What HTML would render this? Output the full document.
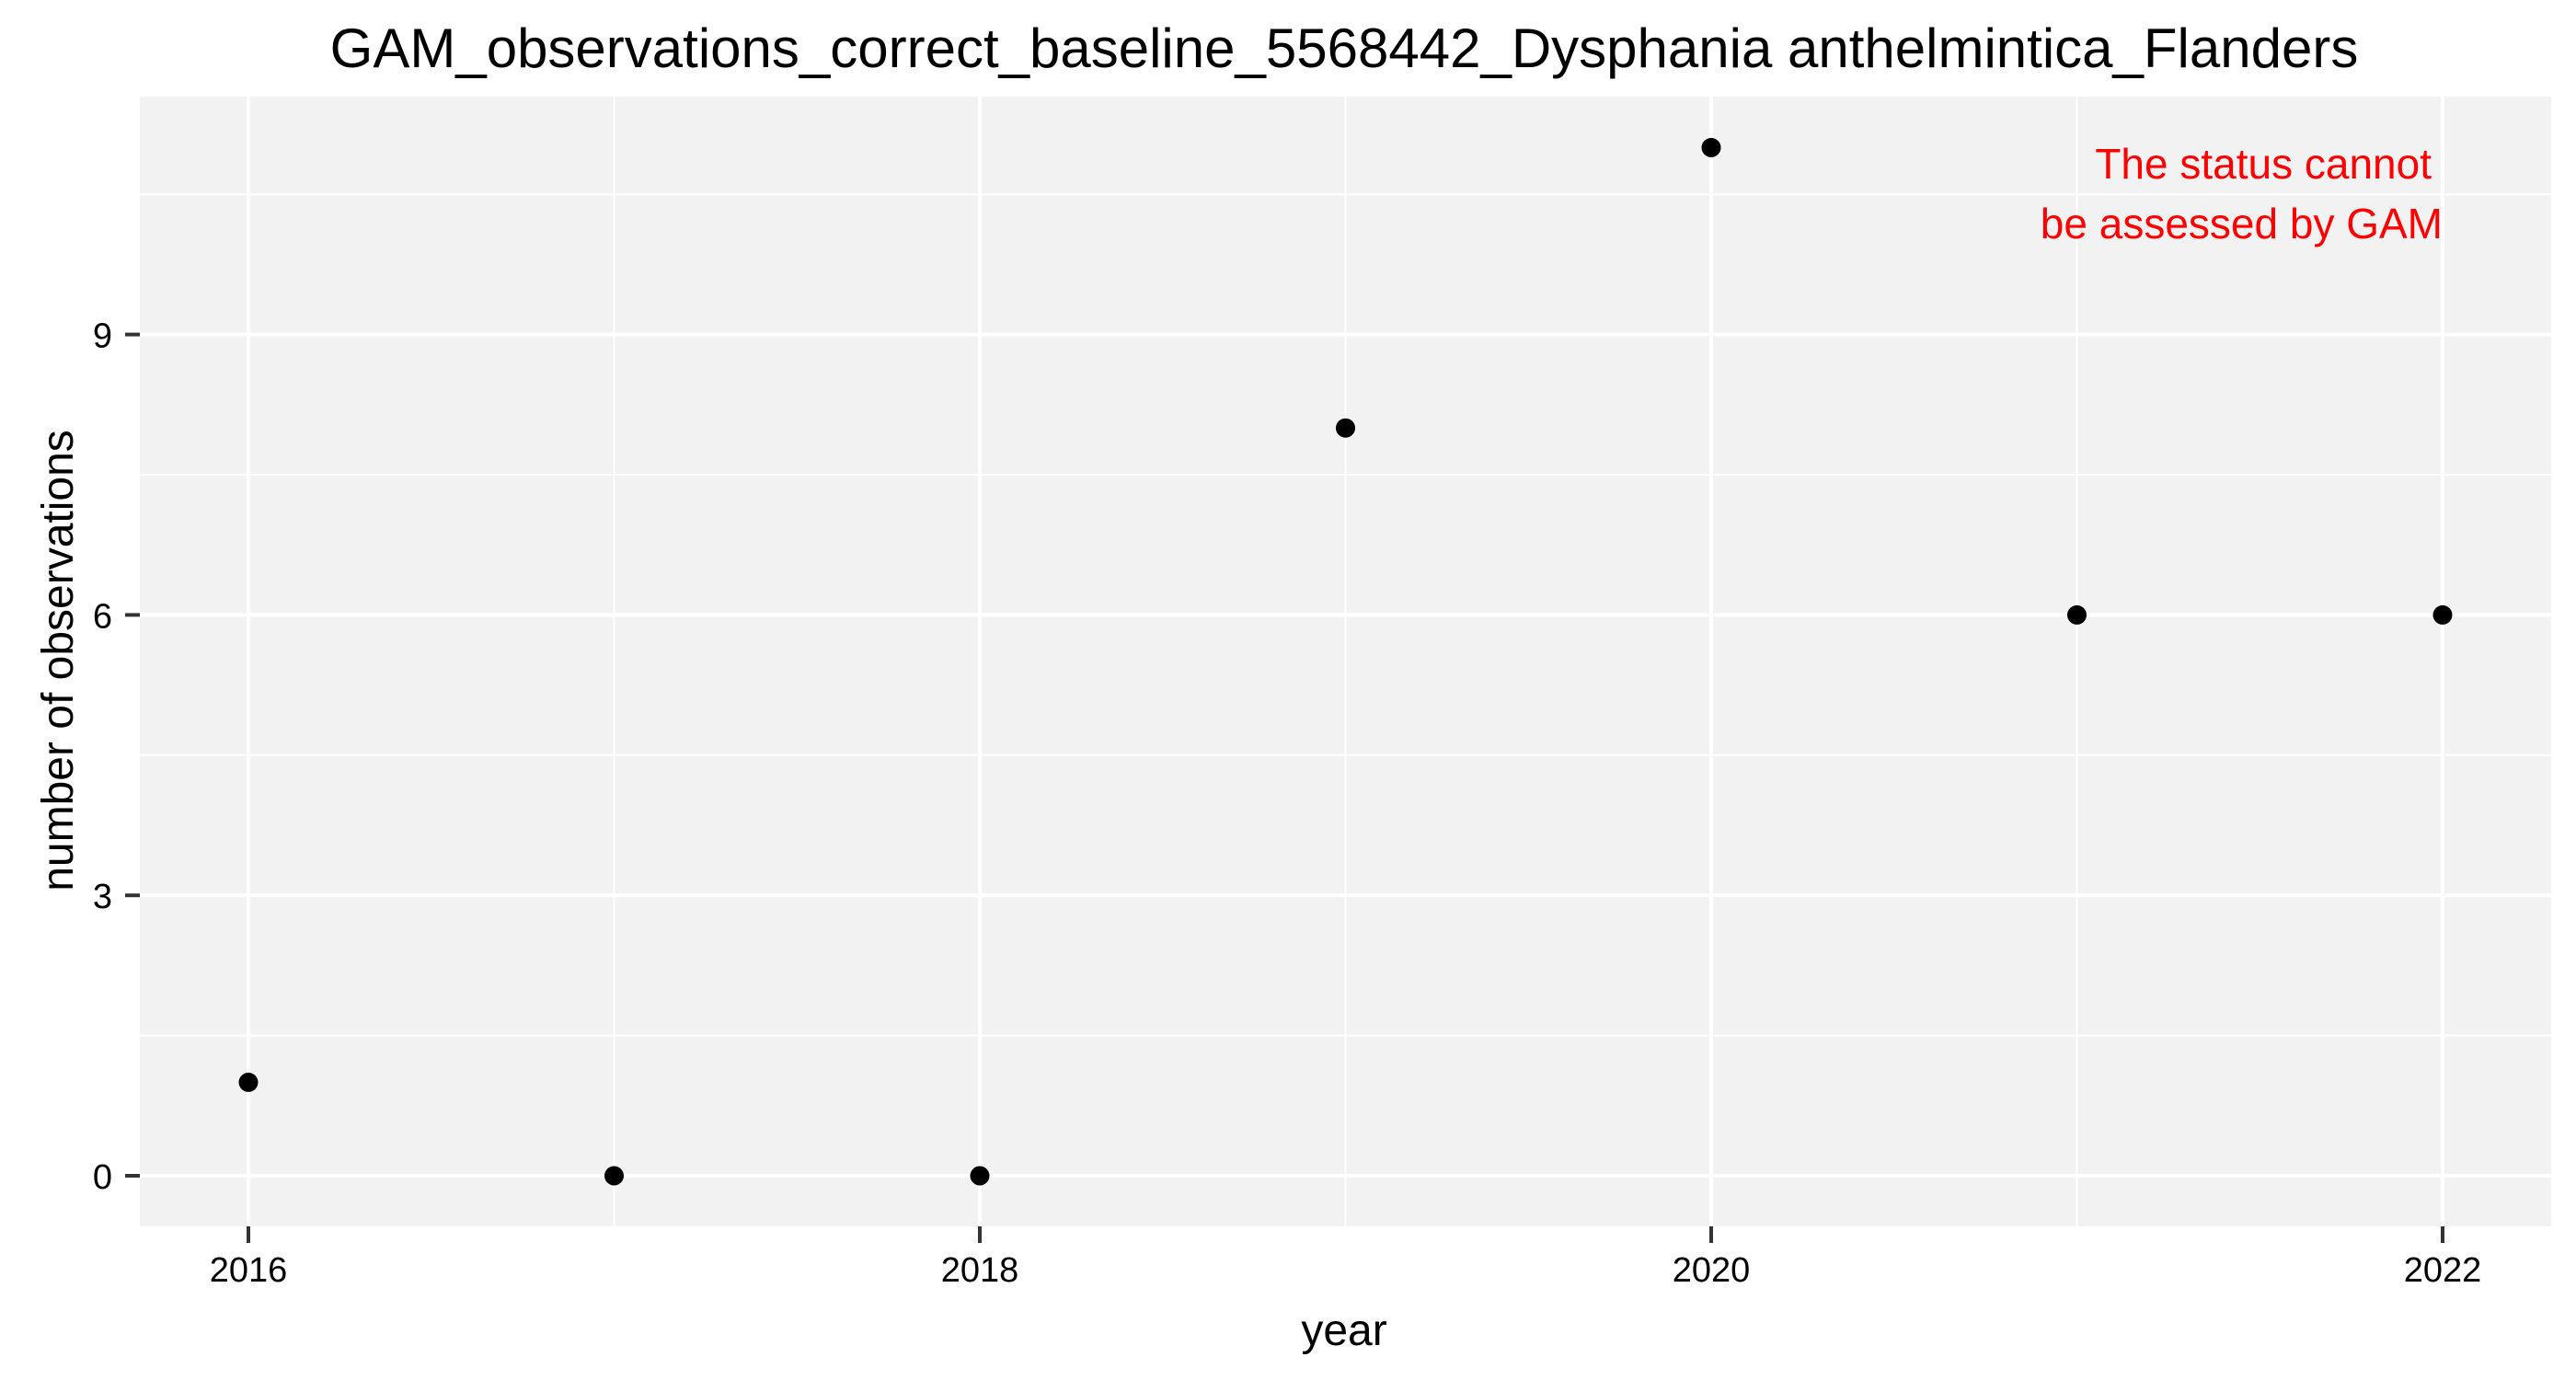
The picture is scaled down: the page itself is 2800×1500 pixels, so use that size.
<!DOCTYPE html>
<html><head><meta charset="utf-8"><style>
html,body{margin:0;padding:0;background:#fff;}
svg{display:block;font-family:"Liberation Sans",Arial,sans-serif;}
</style></head><body>
<svg id="chart" width="2800" height="1500" viewBox="0 0 2800 1500">
<rect x="0" y="0" width="2800" height="1500" fill="#fff"/>
<text x="1461" y="73" font-size="60" text-anchor="middle" fill="#000">GAM_observations_correct_baseline_5568442_Dysphania anthelmintica_Flanders</text>
<rect x="152" y="105" width="2621" height="1228" fill="#f2f2f2"/>
<g id="grid"></g>
<g id="axes"></g>
<g id="points"></g>
<text x="2643" y="194" font-size="46" text-anchor="end" fill="#ff0000">The status cannot</text>
<text x="2655" y="259" font-size="46" text-anchor="end" fill="#ff0000">be assessed by GAM</text>
<text x="1461" y="1462" font-size="48" text-anchor="middle" fill="#000">year</text>
<text x="0" y="0" font-size="48" text-anchor="middle" fill="#000" transform="translate(79,718) rotate(-90)">number of observations</text>
</svg>
<script>
const years = [2016, 2017, 2018, 2019, 2020, 2021, 2022];
const observations = [1, 0, 0, 8, 11, 6, 6];
const xTicks = [2016, 2018, 2020, 2022];
const yTicks = [0, 3, 6, 9];

const NS = "http://www.w3.org/2000/svg";
function xs(v){ return 270 + (v - 2016) * 397.5; }
function ys(v){ return 1278 - v * 101.6; }
function mk(tag, attrs, parent){
  const e = document.createElementNS(NS, tag);
  for (const k in attrs) e.setAttribute(k, attrs[k]);
  parent.appendChild(e);
  return e;
}
const grid = document.getElementById('grid');
const axes = document.getElementById('axes');
const pts = document.getElementById('points');
const L = 152, R = 2773, T = 105, B = 1333;

for (let i = 0; i < xTicks.length - 1; i++) {
  const v = (xTicks[i] + xTicks[i+1]) / 2;
  const ln = mk('line', {x1: xs(v), x2: xs(v), y1: T, y2: B, stroke: '#fff', 'stroke-width': 2}, grid);
  
  
}
for (let i = 0; i < yTicks.length; i++) {
  const v = yTicks[i] + 1.5;
  const ln = mk('line', {x1: L, x2: R, y1: ys(v), y2: ys(v), stroke: '#fff', 'stroke-width': 2}, grid);
  
  
}
xTicks.forEach(v => {
  const g = mk('line', {x1: xs(v), x2: xs(v), y1: T, y2: B, stroke: '#fff', 'stroke-width': 4}, grid);
  
  
  const t = mk('line', {x1: xs(v), x2: xs(v), y1: B, y2: B + 18, stroke: '#333', 'stroke-width': 4}, axes);
  
  
  const lb = mk('text', {x: xs(v), y: 1393, 'font-size': 38, 'text-anchor': 'middle', fill: '#000'}, axes);
  lb.textContent = v;
  
  
});
yTicks.forEach(v => {
  const g = mk('line', {x1: L, x2: R, y1: ys(v), y2: ys(v), stroke: '#fff', 'stroke-width': 4}, grid);
  
  
  const t = mk('line', {x1: L - 16, x2: L, y1: ys(v), y2: ys(v), stroke: '#333', 'stroke-width': 4}, axes);
  
  
  const lb = mk('text', {x: 122, y: ys(v) + 14, 'font-size': 38, 'text-anchor': 'end', fill: '#000'}, axes);
  lb.textContent = v;
  
  
});
years.forEach((yr, i) => {
  const c = mk('circle', {cx: xs(yr), cy: ys(observations[i]), r: 10.5, fill: '#000'}, pts);
  
  
});
</script>
</body></html>
